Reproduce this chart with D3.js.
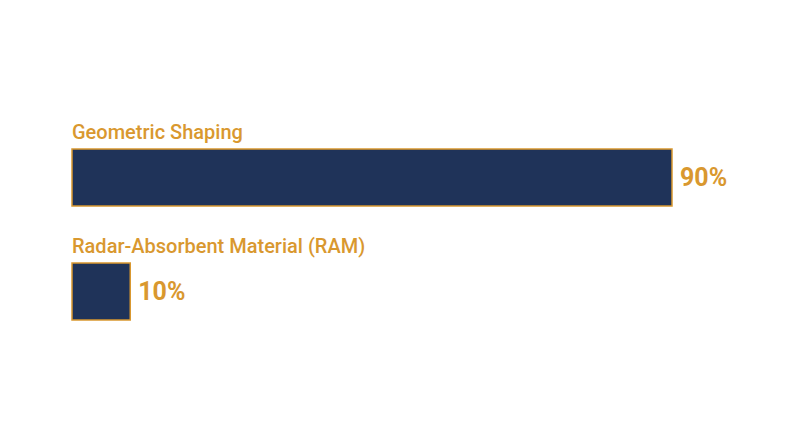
<!DOCTYPE html>
<html>
<head>
<meta charset="utf-8">
<script src="https://cdn.jsdelivr.net/npm/d3@7"></script>
<style>
  html, body { margin: 0; padding: 0; background: #ffffff; }
  svg { display: block; }
</style>
</head>
<body>
<svg id="chart"></svg>
<script>
const categories = ["Geometric Shaping", "Radar-Absorbent Material (RAM)"];
const values = [90, 10];
const valueLabels = ["90%", "10%"];

const width = 800;
const height = 447;
const gold = "#d9982f";
const navy = "#1f3359";

const svg = d3.select("#chart")
  .attr("width", width)
  .attr("height", height)
  .attr("viewBox", `0 0 ${width} ${height}`);

// bars start slightly above zero so the small bar keeps its square look
const x = d3.scaleLinear().domain([1.4, 90]).range([72, 672]);

const y = d3.scaleBand()
  .domain(categories)
  .range([149, 320])
  .paddingInner(0.5);

const rows = svg.selectAll(".row")
  .data(categories.map((c, i) => ({ cat: c, value: values[i], label: valueLabels[i] })))
  .enter()
  .append("g")
  .attr("class", "row");

rows.append("text")
  .attr("x", x.range()[0])
  .attr("y", d => y(d.cat) - 10)
  .attr("fill", gold)
  .style("font-family", "Roboto, sans-serif")
  .style("font-size", "20px")
  .style("font-weight", 500)
  .text(d => d.cat);

rows.append("rect")
  .attr("x", x.range()[0])
  .attr("y", d => y(d.cat))
  .attr("width", d => x(d.value) - x.range()[0])
  .attr("height", y.bandwidth())
  .attr("fill", navy)
  .attr("stroke", gold)
  .attr("stroke-width", 1.5);

rows.append("text")
  .attr("x", d => x(d.value) + 8)
  .attr("y", d => y(d.cat) + y.bandwidth() / 2 + 8.5)
  .attr("fill", gold)
  .style("font-family", "Roboto, sans-serif")
  .style("font-size", "25px")
  .style("font-weight", 700)
  .text(d => d.label);
</script>
</body>
</html>
